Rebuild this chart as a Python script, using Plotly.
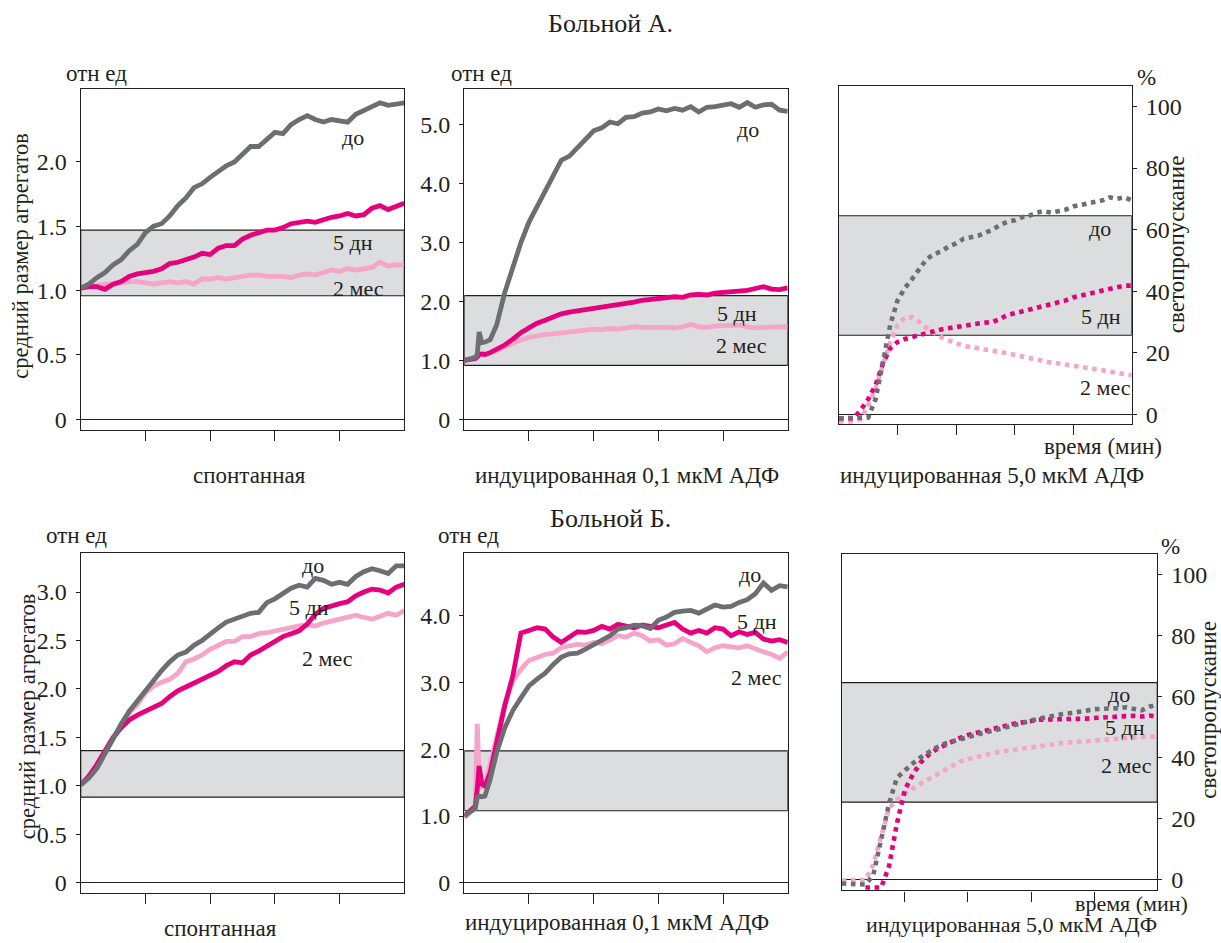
import plotly.graph_objects as go

W, H = 1221, 943
FONT = "Liberation Serif"
INK = "#231f20"
C_DO = "#6d6e71"
C_5D = "#e6007e"
C_2M = "#f4a5c8"
BAND_FILL = "#dcdddf"

# ---------------- sample times (relative units, 5 intervals across each panel)
T_STD = [0, 0.125, 0.25, 0.375, 0.5, 0.625, 0.75, 0.875, 1, 1.125, 1.25, 1.375, 1.5, 1.625,
         1.75, 1.875, 2, 2.125, 2.25, 2.375, 2.5, 2.625, 2.75, 2.875, 3, 3.125, 3.25, 3.375,
         3.5, 3.625, 3.75, 3.875, 4, 4.125, 4.25, 4.375, 4.5, 4.625, 4.75, 4.875, 5]
T_MID = [0, 0.1, 0.17, 0.2, 0.23, 0.27, 0.32, 0.4, 0.5, 0.625, 0.75, 0.875, 1, 1.125, 1.25,
         1.375, 1.5, 1.625, 1.75, 1.875, 2, 2.125, 2.25, 2.375, 2.5, 2.625, 2.75, 2.875, 3,
         3.125, 3.25, 3.375, 3.5, 3.625, 3.75, 3.875, 4, 4.125, 4.25, 4.375, 4.5, 4.625, 4.75,
         4.875, 5]

# ---------------- Patient A: spontaneous aggregation (rel. units)
A_SP_DO = [1.02, 1.05, 1.10, 1.14, 1.20, 1.24, 1.31, 1.36, 1.45, 1.50,
           1.52, 1.58, 1.66, 1.72, 1.80, 1.83, 1.88, 1.93, 1.97, 2.00,
           2.06, 2.12, 2.12, 2.17, 2.23, 2.22, 2.29, 2.33, 2.36, 2.33,
           2.31, 2.33, 2.32, 2.31, 2.37, 2.40, 2.44, 2.46, 2.44, 2.45, 2.46]
A_SP_5D = [1.02, 1.03, 1.03, 1.01, 1.05, 1.07, 1.11, 1.13, 1.14, 1.15,
           1.17, 1.21, 1.22, 1.24, 1.26, 1.29, 1.28, 1.33, 1.35, 1.35,
           1.40, 1.43, 1.45, 1.47, 1.47, 1.49, 1.52, 1.53, 1.54, 1.53,
           1.55, 1.57, 1.58, 1.60, 1.58, 1.59, 1.64, 1.66, 1.63, 1.66, 1.68]
A_SP_2M = [1.02, 1.03, 1.04, 1.05, 1.05, 1.06, 1.07, 1.07, 1.06, 1.05,
           1.06, 1.07, 1.06, 1.07, 1.05, 1.09, 1.09, 1.10, 1.09, 1.10,
           1.11, 1.12, 1.12, 1.11, 1.11, 1.11, 1.10, 1.12, 1.13, 1.12,
           1.14, 1.16, 1.15, 1.17, 1.16, 1.17, 1.18, 1.22, 1.19, 1.20, 1.20]

# ---------------- Patient A: induced 0.1 uM ADP (rel. units)
A_01_DO = [1.00, 1.03, 1.05, 1.10, 1.48, 1.30, 1.31, 1.35, 1.60,
           2.15, 2.60, 3.00, 3.35, 3.62, 3.88, 4.12, 4.40, 4.47, 4.62, 4.77, 4.90,
           4.95, 5.05, 5.02, 5.13, 5.14, 5.20, 5.22, 5.27, 5.24, 5.28, 5.25, 5.31,
           5.22, 5.30, 5.31, 5.34, 5.36, 5.30, 5.38, 5.30, 5.34, 5.35, 5.25, 5.23]
A_01_5D = [1.00, 1.01, 1.03, 1.06, 1.10, 1.11, 1.10, 1.13, 1.18,
           1.26, 1.36, 1.47, 1.55, 1.63, 1.68, 1.74, 1.79, 1.82, 1.84, 1.86, 1.90,
           1.92, 1.94, 1.95, 1.97, 1.99, 2.02, 2.04, 2.06, 2.07, 2.08, 2.07, 2.11,
           2.12, 2.11, 2.14, 2.15, 2.16, 2.18, 2.19, 2.22, 2.25, 2.21, 2.20, 2.23]
A_01_2M = [1.00, 1.01, 1.03, 1.05, 1.08, 1.10, 1.10, 1.12, 1.16,
           1.23, 1.30, 1.35, 1.39, 1.42, 1.44, 1.45, 1.47, 1.48, 1.51, 1.53, 1.53,
           1.52, 1.54, 1.53, 1.55, 1.57, 1.56, 1.57, 1.56, 1.56, 1.55, 1.57, 1.61,
           1.57, 1.56, 1.58, 1.59, 1.58, 1.60, 1.57, 1.55, 1.56, 1.57, 1.56, 1.57]

# ---------------- Patient A: induced 5.0 uM ADP (light transmission, %)
A_50_DO = [-1.3, -1.3, -1.3, -1.3, -1.0, 5.0, 17.0, 29.0, 37.0, 41.0,
           44.0, 47.5, 50.5, 52.0, 53.0, 54.5, 55.5, 57.0, 57.5, 58.0,
           59.0, 60.0, 61.5, 62.5, 63.0, 64.0, 64.5, 65.5, 66.0, 65.5,
           66.0, 66.5, 67.5, 68.0, 68.5, 69.0, 69.5, 70.5, 70.0, 70.5, 69.5]
A_50_5D = [-1.3, -1.3, -1.3, 1.5, 5.0, 9.5, 16.5, 21.5, 23.5, 24.5,
           25.2, 25.8, 26.5, 27.0, 27.6, 28.0, 28.5, 29.0, 29.2, 29.5,
           29.8, 30.0, 31.0, 32.3, 32.8, 33.4, 33.9, 34.4, 34.9, 35.6,
           36.3, 37.0, 38.0, 38.6, 39.2, 39.8, 40.3, 40.8, 41.3, 41.8, 41.8]
A_50_2M = [-2.3, -2.3, -2.3, -1.5, 3.0, 8.5, 15.5, 23.5, 29.0, 31.5,
           31.5, 30.0, 28.0, 26.5, 25.0, 24.0, 23.0, 22.3, 21.8, 21.5,
           21.2, 20.8, 20.3, 19.8, 19.3, 18.8, 18.3, 17.6, 17.0, 16.8,
           16.5, 16.2, 15.8, 15.5, 15.1, 14.7, 14.3, 13.9, 13.5, 13.0, 12.7]

# ---------------- Patient B: spontaneous aggregation (rel. units)
B_SP_DO = [1.01, 1.08, 1.18, 1.33, 1.50, 1.64, 1.77, 1.88, 1.98, 2.10,
           2.19, 2.28, 2.35, 2.38, 2.45, 2.50, 2.57, 2.63, 2.69, 2.72,
           2.76, 2.78, 2.79, 2.89, 2.93, 2.99, 3.04, 3.07, 3.05, 3.14,
           3.12, 3.08, 3.10, 3.08, 3.16, 3.21, 3.24, 3.22, 3.19, 3.27, 3.27]
B_SP_5D = [1.01, 1.10, 1.22, 1.37, 1.50, 1.60, 1.68, 1.73, 1.77, 1.80,
           1.85, 1.92, 1.98, 2.02, 2.06, 2.09, 2.14, 2.18, 2.24, 2.28,
           2.27, 2.35, 2.39, 2.44, 2.50, 2.54, 2.57, 2.60, 2.67, 2.77,
           2.83, 2.86, 2.88, 2.90, 2.96, 3.00, 3.03, 3.02, 2.99, 3.05, 3.08]
B_SP_2M = [1.01, 1.09, 1.20, 1.34, 1.50, 1.62, 1.75, 1.84, 1.96, 2.03,
           2.07, 2.10, 2.16, 2.28, 2.31, 2.35, 2.41, 2.45, 2.49, 2.49,
           2.54, 2.54, 2.57, 2.58, 2.60, 2.61, 2.64, 2.65, 2.66, 2.65,
           2.68, 2.70, 2.71, 2.73, 2.76, 2.74, 2.72, 2.75, 2.78, 2.76, 2.81]

# ---------------- Patient B: induced 0.1 uM ADP (rel. units)
B_01_DO = [1.00, 1.06, 1.12, 1.28, 1.30, 1.29, 1.30, 1.55, 1.95,
           2.32, 2.58, 2.77, 2.95, 3.05, 3.14, 3.27, 3.38, 3.43, 3.44, 3.50, 3.57,
           3.62, 3.70, 3.80, 3.82, 3.86, 3.85, 3.81, 3.93, 3.98, 4.05, 4.07, 4.08,
           4.04, 4.10, 4.16, 4.13, 4.14, 4.20, 4.24, 4.33, 4.49, 4.38, 4.45, 4.43]
B_01_5D = [1.00, 1.08, 1.15, 1.40, 1.75, 1.48, 1.45, 1.65, 2.08,
           2.65, 3.10, 3.74, 3.78, 3.82, 3.80, 3.68, 3.60, 3.68, 3.76, 3.75, 3.78,
           3.84, 3.80, 3.87, 3.85, 3.82, 3.86, 3.84, 3.82, 3.86, 3.90, 3.80, 3.74,
           3.78, 3.74, 3.82, 3.80, 3.70, 3.76, 3.72, 3.75, 3.65, 3.62, 3.64, 3.60]
B_01_2M = [0.98, 1.05, 1.12, 2.38, 1.60, 1.42, 1.48, 1.78, 2.20,
           2.68, 3.02, 3.20, 3.33, 3.38, 3.42, 3.44, 3.52, 3.55, 3.57, 3.56, 3.60,
           3.58, 3.64, 3.70, 3.68, 3.74, 3.70, 3.62, 3.64, 3.56, 3.58, 3.66, 3.60,
           3.55, 3.46, 3.52, 3.55, 3.53, 3.52, 3.55, 3.50, 3.46, 3.42, 3.36, 3.46]

# ---------------- Patient B: induced 5.0 uM ADP (light transmission, %)
B_50_DO = [-1.2, -1.2, -1.2, -1.5, 1.5, 12.5, 25.0, 33.5, 36.0, 38.2,
           40.2, 42.0, 43.4, 44.6, 45.4, 46.1, 47.0, 47.7, 48.3, 48.8,
           49.5, 50.2, 51.0, 51.8, 52.3, 52.9, 53.4, 54.0, 54.4, 54.7,
           55.0, 55.5, 56.0, 56.0, 56.1, 56.3, 56.6, 56.2, 55.6, 56.8, 57.5]
B_50_5D = [None, None, None, -2.5, -2.5, -2.5, 4.5, 18.5, 29.5, 34.5,
           38.5, 41.0, 42.8, 44.2, 45.5, 46.6, 47.5, 48.2, 48.8, 49.3,
           50.0, 50.7, 51.3, 51.8, 52.2, 52.5, 52.6, 52.6, 52.7, 52.6,
           52.7, 52.9, 53.1, 53.3, 53.6, 53.7, 53.7, 53.8, 53.6, 53.9, 53.4]
B_50_2M = [-0.3, -0.3, -0.3, 0.0, 5.0, 15.0, 23.5, 26.3, 28.2, 30.0,
           31.5, 33.0, 34.6, 36.0, 37.5, 38.8, 39.6, 40.3, 40.9, 41.4,
           42.0, 42.4, 42.8, 43.0, 43.3, 43.9, 44.3, 44.6, 44.9, 45.1,
           45.3, 45.6, 45.8, 46.1, 46.4, 46.6, 46.8, 46.9, 46.9, 47.0, 47.0]

# ---------------- normal ranges (shaded bands)
BAND_A = [[0.96, 1.47], [0.915, 2.10], [25.7, 64.5]]
BAND_B = [[0.884, 1.364], [1.08, 1.976], [25.5, 64.7]]

# ---------------- tick labels
TICKS_SP_A = ([0, 0.5, 1, 1.5, 2], ["0", "0.5", "1.0", "1.5", "2.0"])
TICKS_01_A = ([0, 1, 2, 3, 4, 5], ["0", "1.0", "2.0", "3.0", "4.0", "5.0"])
TICKS_PCT = ([0, 20, 40, 60, 80, 100], ["0", "20", "40", "60", "80", "100"])
TICKS_SP_B = ([0, 0.5, 1, 1.5, 2, 2.5, 3], ["0", "0.5", "1.0", "1.5", "2.0", "2.5", "3.0"])
TICKS_01_B = ([0, 1, 2, 3, 4], ["0", "1.0", "2.0", "3.0", "4.0"])
X_TICKS = [1, 2, 3, 4]

SERIES_NAMES = ["2 мес", "5 дн", "до"]
SERIES_COLORS = [C_2M, C_5D, C_DO]


def px_x(px):
    return px / W


def px_y(py):
    return 1 - py / H


# panel layout: (left, right, top, bottom) in px, y range
panels = [
    dict(box=(80.7, 404.3, 89.3, 431.0), yr=[-0.081, 2.567], ticks=TICKS_SP_A, side="left",
         t=T_STD, data=[A_SP_2M, A_SP_5D, A_SP_DO], dash="solid", band=BAND_A[0], bx0=0,
         labels=[("до", 4.21, 2.19), ("5 дн", 4.20, 1.37), ("2 мес", 4.29, 1.015)]),
    dict(box=(464.3, 787.7, 89.3, 431.0), yr=[-0.178, 5.61], ticks=TICKS_01_A, side="left",
         t=T_MID, data=[A_01_2M, A_01_5D, A_01_DO], dash="solid", band=BAND_A[1], bx0=0,
         labels=[("до", 4.38, 4.93), ("5 дн", 4.21, 1.80), ("2 мес", 4.29, 1.26)]),
    dict(box=(839.0, 1131.7, 86.7, 425.7), yr=[-3.24, 106.5], ticks=TICKS_PCT, side="right",
         t=T_STD, data=[A_50_2M, A_50_5D, A_50_DO], dash="dot", band=BAND_A[2], bx0=-0.03,
         labels=[("до", 4.45, 60.5), ("5 дн", 4.48, 31.9), ("2 мес", 4.56, 8.7)]),
    dict(box=(80.7, 404.3, 555.0, 896.0), yr=[-0.106, 3.40], ticks=TICKS_SP_B, side="left",
         t=T_STD, data=[B_SP_2M, B_SP_5D, B_SP_DO], dash="solid", band=BAND_B[0], bx0=0,
         labels=[("до", 3.59, 3.27), ("5 дн", 3.52, 2.84), ("2 мес", 3.82, 2.31)]),
    dict(box=(464.3, 787.7, 554.3, 896.0), yr=[-0.154, 4.946], ticks=TICKS_01_B, side="left",
         t=T_MID, data=[B_01_2M, B_01_5D, B_01_DO], dash="solid", band=BAND_B[1], bx0=0,
         labels=[("до", 4.42, 4.61), ("5 дн", 4.52, 3.91), ("2 мес", 4.52, 3.08)]),
    dict(box=(841.7, 1157.3, 556.0, 893.3), yr=[-3.46, 106.8], ticks=TICKS_PCT, side="right",
         t=T_STD, data=[B_50_2M, B_50_5D, B_50_DO], dash="dot", band=BAND_B[2], bx0=-0.03,
         labels=[("до", 4.40, 60.9), ("5 дн", 4.49, 50.0), ("2 мес", 4.51, 37.4)]),
]

fig = go.Figure()
layout = dict(
    width=W, height=H, margin=dict(l=0, r=0, t=0, b=0),
    paper_bgcolor="white", plot_bgcolor="rgba(0,0,0,0)", showlegend=False,
    font=dict(family=FONT, size=23, color=INK),
)
shapes = []
annotations = []

for i, p in enumerate(panels, start=1):
    xa = "x" if i == 1 else f"x{i}"
    ya = "y" if i == 1 else f"y{i}"
    l, r, t, b = p["box"]
    for ser in p["data"]:
        assert len(ser) == len(p["t"]), (i, len(ser), len(p["t"]))
    for ser, name, col in zip(p["data"], SERIES_NAMES, SERIES_COLORS):
        fig.add_trace(go.Scatter(
            x=p["t"], y=ser, mode="lines", name=name, xaxis=xa, yaxis=ya,
            line=dict(color=col, width=4.8 if p["dash"] == "solid" else 4.6, dash=p["dash"]),
            connectgaps=False, hoverinfo="skip"))
    layout[f"xaxis{'' if i == 1 else i}"] = dict(
        domain=[px_x(l), px_x(r)], anchor=ya, range=[0, 5], showgrid=False, zeroline=False,
        tickmode="array", tickvals=X_TICKS, ticks="outside", ticklen=10, tickwidth=1.3,
        tickcolor=INK, showticklabels=False, showline=True, linecolor=INK, linewidth=1.3,
        mirror=True, fixedrange=True)
    layout[f"yaxis{'' if i == 1 else i}"] = dict(
        domain=[px_y(b), px_y(t)], anchor=xa, range=p["yr"], side=p["side"], showgrid=False,
        zeroline=True, zerolinecolor=INK, zerolinewidth=1.2,
        tickmode="array", tickvals=p["ticks"][0], ticktext=p["ticks"][1], ticks="outside",
        ticklen=4, tickwidth=1.2, tickcolor=INK, ticklabelstandoff=4,
        tickfont=dict(family=FONT, size=24, color=INK),
        showline=True, linecolor=INK, linewidth=1.3, mirror=True, fixedrange=True)
    shapes.append(dict(type="rect", xref=xa, yref=ya, x0=p["bx0"], x1=5,
                       y0=p["band"][0], y1=p["band"][1], fillcolor=BAND_FILL,
                       line=dict(color=INK, width=1.2), layer="below"))
    for txt, tx, ty in p["labels"]:
        annotations.append(dict(text=txt, x=tx, y=ty, xref=xa, yref=ya, showarrow=False,
                                xanchor="center", yanchor="middle",
                                font=dict(family=FONT, size=22, color=INK)))


def note(text, px, py, size=23, angle=0):
    annotations.append(dict(text=text, x=px_x(px), y=px_y(py), xref="paper", yref="paper",
                            showarrow=False, xanchor="center", yanchor="middle",
                            textangle=angle, font=dict(family=FONT, size=size, color=INK)))


note("Больной А.", 610, 24, size=26)
note("Больной Б.", 610, 520, size=26)
note("отн ед", 96.7, 74)
note("отн ед", 481, 74)
note("отн ед", 76.7, 537)
note("отн ед", 468.3, 537)
note("средний размер агрегатов", 20.5, 257, size=22.5, angle=-90)
note("средний размер агрегатов", 27.5, 719, size=22.5, angle=-90)
note("спонтанная", 249, 477)
note("спонтанная", 220, 931)
note("индуцированная 0,1 мкМ АДФ", 626.7, 477)
note("индуцированная 0,1 мкМ АДФ", 616.7, 925)
note("индуцированная 5,0 мкМ АДФ", 991.7, 477)
note("индуцированная 5,0 мкМ АДФ", 1011.7, 927, size=22)
note("время (мин)", 1131.7, 906, size=22)
note("время (мин)", 1103, 448)
note("%", 1146.7, 78)
note("%", 1170, 548)
note("светопропускание", 1176, 245, angle=-90)
note("светопропускание", 1209, 712, angle=-90)

layout["shapes"] = shapes
layout["annotations"] = annotations
fig.update_layout(**layout)
fig.write_html("out.html", config={"displayModeBar": False},
               post_script="document.body.style.margin='0';document.body.style.overflow='hidden';")
